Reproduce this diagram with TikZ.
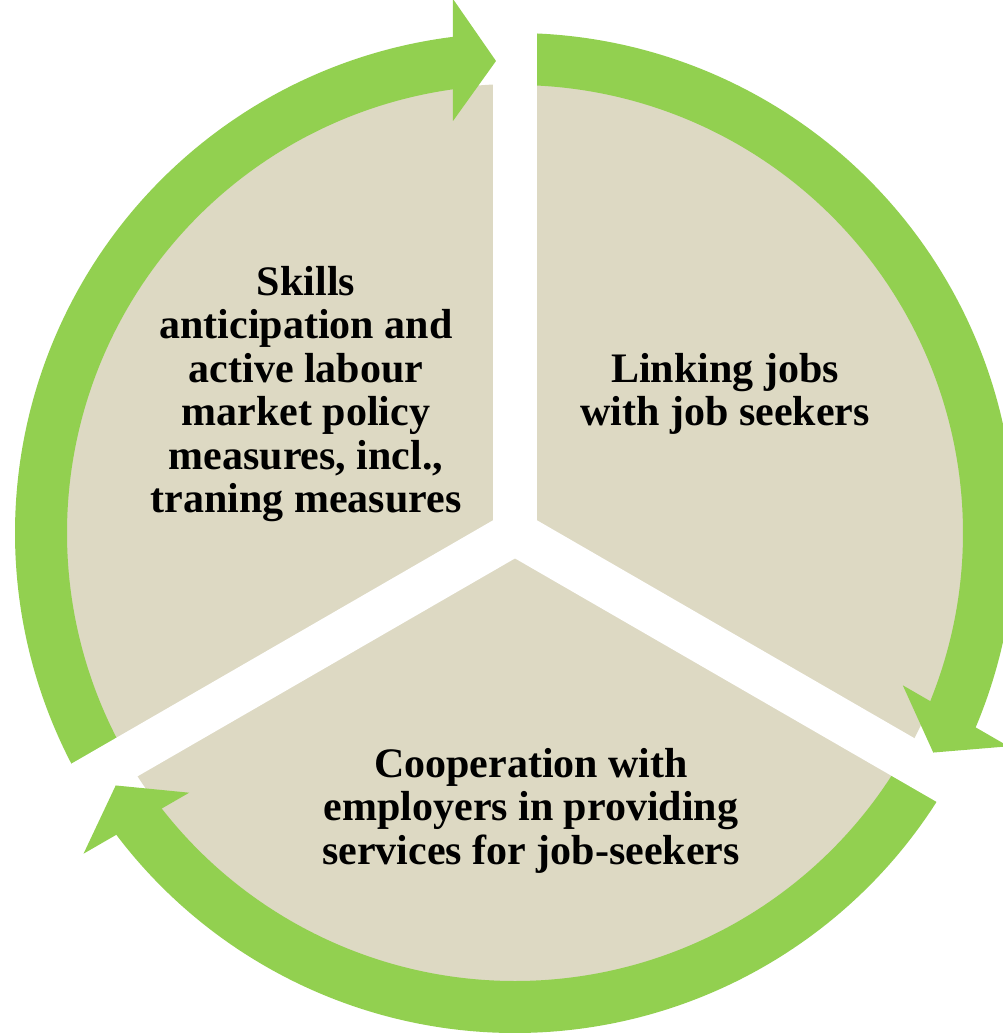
\documentclass[tikz,border=0pt]{standalone}
\usepackage{fontspec}
\setmainfont{Liberation Serif}

\definecolor{sectorbeige}{HTML}{DDD9C3}
\definecolor{ringgreen}{HTML}{92D050}

\tikzset{
        sectortext/.style={align=center,inner sep=0pt,font=\fontsize{11.95}{12.35}\selectfont\bfseries}
}

\begin{document}
\begin{tikzpicture}
        \useasboundingbox (-5.15,-5.00) rectangle (4.88,5.33);

        % draw the beige disc
        \fill[sectorbeige] (0cm,0cm) circle(4.49);

        \foreach \x in {0,120,240} {
                % ring piece from one gap to the next arrow head
                \fill[ringgreen] (\x+210:4.48) arc[start angle=\x+210,end angle=\x+96,radius=4.48]
                        -- (\x+96:5) arc[start angle=\x+96,end angle=\x+210,radius=5] -- cycle;
        }

        \foreach \x in {0,120,240} {
                % white gaps between the sectors
                \draw[white,line width=0.44cm] (0,0) -- (\x+90:5.6);
        }

        \foreach \x in {0,120,240} {
                % arrow heads
                \fill[ringgreen,rotate=\x] (-0.62,4.12) -- (-0.62,5.34) -- (-0.19,4.72) -- cycle;
        }

        % the three labels
        \node[sectortext] (skills) at (-2.09,1.39)
                {Skills\\anticipation and\\active labour\\market policy\\measures, incl.,\\traning measures};
        \node[sectortext] (linking) at (2.10,1.39) {Linking jobs\\with job seekers};
        \node[sectortext] (cooperation) at (0.16,-2.775)
                {Cooperation with\\employers in providing\\services for job-seekers};

\end{tikzpicture}
\end{document}
